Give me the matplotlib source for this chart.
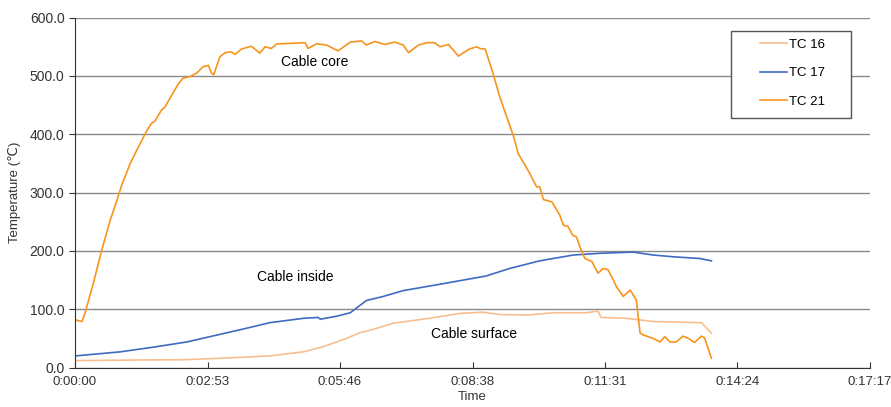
import matplotlib
matplotlib.use("Agg")
import matplotlib.pyplot as plt
from matplotlib.patches import Rectangle

plt.rcParams['font.family'] = ['Liberation Sans', 'DejaVu Sans']

# time in seconds, temperature in degC
t21 = [0, 9, 13, 24, 35, 46, 52, 61, 72, 83, 94, 100, 104, 113, 117, 124, 135, 141,
       150, 159, 167, 174, 178, 181, 189, 196, 204, 209, 217, 230, 241, 248, 256, 263,
       285, 300, 304, 315, 328, 343, 359, 374, 380, 391, 404, 417, 428, 435, 448,
       459, 469, 476, 487, 500, 514, 524, 528, 535, 545, 554, 563, 572, 578, 593,
       602, 606, 611, 622, 632, 637, 643, 649, 654, 659, 665, 674, 682, 689, 695, 702,
       706, 715, 724, 732, 737, 741, 754, 763, 769, 776, 784, 793, 800, 808, 817, 821, 830]
T21 = [82, 79, 93, 145, 202, 253, 276, 313, 350, 379, 407, 419, 422, 442, 446, 462,
       487, 496, 499, 505, 516, 518, 505, 502, 533, 540, 541, 537, 546, 551, 539, 550,
       547, 555, 556, 557, 547, 555, 553, 543, 558, 560, 553, 559, 554, 558, 553, 540,
       553, 557, 557, 550, 554, 534, 546, 550, 547, 546, 505, 464, 430, 396, 367, 333,
       310, 310, 288, 284, 262, 244, 242, 227, 224, 205, 187, 182, 162, 170, 168, 150,
       139, 122, 133, 116, 59, 56, 50, 44, 53, 44, 44, 54, 50, 43, 54, 51, 16]

t17 = [0, 59, 102, 146, 189, 219, 254, 298, 317, 320, 341, 359, 372, 380, 402, 428,
       472, 536, 567, 606, 650, 685, 728, 754, 780, 815, 830]
T17 = [20, 27, 35, 44, 57, 66, 77, 84.5, 86, 83, 88, 94, 107, 115, 122, 132, 142, 157,
       170, 183, 193, 196, 198, 193, 190, 187, 183]

t16 = [0, 80, 141, 189, 254, 298, 324, 354, 372, 385, 415, 459, 502, 532, 554, 589,
       624, 667, 682, 686, 719, 754, 817, 830]
T16 = [12, 13, 13.5, 16, 20, 27, 36, 50, 60, 64, 76, 84, 93, 95, 91, 90, 94, 94, 97,
       86, 84.5, 79, 77, 59]

xtick_labels = ['0:00:00', '0:02:53', '0:05:46', '0:08:38', '0:11:31', '0:14:24', '0:17:17']
series_names = ['TC 16', 'TC 17', 'TC 21']
colors = ['#F9BE8E', '#3F6BC2', '#F7941D']

fig = plt.figure(figsize=(8.91, 4.07), dpi=100)
ax = fig.add_axes([75/891, 1-367.6/407, 795/891, 350/407])

ax.plot(t16, T16, color=colors[0], lw=1.2, label=series_names[0])
ax.plot(t17, T17, color=colors[1], lw=1.2, label=series_names[1])
ax.plot(t21, T21, color=colors[2], lw=1.2, label=series_names[2])

ax.set_xlim(0, 172.8*6)
ax.set_ylim(0, 600)
ax.set_xticks([172.8*i for i in range(7)])
ax.set_xticklabels(xtick_labels)
ax.set_yticks(range(0, 601, 100))
ax.set_yticklabels(['%.1f' % v for v in range(0, 601, 100)])
ax.tick_params(axis='x', direction='in', length=4, labelsize=9.5, colors='#333333', pad=6)
ax.tick_params(axis='y', direction='out', length=4, labelsize=10, colors='#333333')
ax.grid(axis='y', color='#8a8a8a', lw=1)
ax.set_axisbelow(True)
for s in ['top', 'right']:
    ax.spines[s].set_visible(False)
for s in ['left', 'bottom']:
    ax.spines[s].set_color('#333333')

ax.set_xlabel('Time', fontsize=9.5, color='#333333', labelpad=2)
ax.set_ylabel('Temperature (℃)', fontsize=9.5, color='#333333', labelpad=6)

ax.text(313, 524, 'Cable core', ha='center', va='center', fontsize=10)
ax.text(287, 156, 'Cable inside', ha='center', va='center', fontsize=10)
ax.text(520, 58, 'Cable surface', ha='center', va='center', fontsize=10)

# legend box
box = Rectangle(((731-75)/795, (367.6-118)/350), 120/795, 87/350, transform=ax.transAxes,
                facecolor='white', edgecolor='#555555', lw=1, zorder=5)
ax.add_patch(box)
leg = ax.legend(loc='upper left', bbox_to_anchor=((755-75)/795, (367.6-33)/350),
                frameon=False, fontsize=9.5, handlelength=2.0, handletextpad=0.2,
                labelspacing=1.25, borderaxespad=0)
leg.set_zorder(6)

fig.savefig('out.png', dpi=100)
